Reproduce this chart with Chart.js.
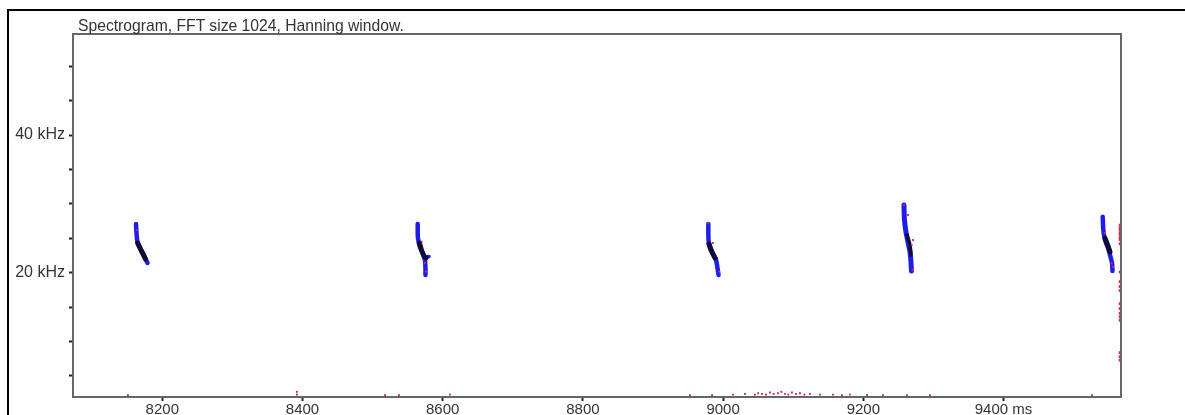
<!DOCTYPE html>
<html>
<head>
<meta charset="utf-8">
<script src="https://cdn.jsdelivr.net/npm/chart.js@4/dist/chart.umd.min.js"></script>
<style>
  html, body { margin: 0; padding: 0; background: #fff; }
  #wrap { position: relative; width: 1185px; height: 415px; overflow: hidden; }
  #frame { position: absolute; left: 7px; top: 9px; width: 1177px; height: 420px;
           border-top: 2px solid #000; border-left: 2px solid #000; }
  #title { position: absolute; left: 78px; top: 18px; font: 15.7px "Liberation Sans", Arial, sans-serif;
           line-height: 16px; color: #333; white-space: nowrap; }
  canvas { position: absolute; left: 0; top: 0; }
</style>
</head>
<body>
<div id="wrap">
  <div id="frame"></div>
  <canvas id="spectro" width="1185" height="415"></canvas>
  <div id="title">Spectrogram, FFT size 1024, Hanning window.</div>
</div>
<script>
// axis ranges (ms, kHz)
const timeMin = 8072.6;
const timeMax = 9567.6;
const freqMin = 1.95;
const freqMax = 54.67;

const xTickValues = [8200, 8400, 8600, 8800, 9000, 9200, 9400];
const yTickValues = [5, 10, 15, 20, 25, 30, 35, 40, 45, 50];
const yLabelValues = [20, 40];

// call traces: time in ms, frequency in kHz
const call1Ms  = [8162.5, 8163.2, 8164.6, 8169.6, 8173.9, 8178.9];
const call1KHz = [27.07, 25.77, 24.46, 23.30, 22.43, 21.41];
const call1CoreMs  = [8164.9, 8169.6, 8173.9, 8176.0];
const call1CoreKHz = [24.30, 23.30, 22.43, 21.99];

const call2Ms  = [8564.3, 8564.7, 8567.6, 8571.9, 8574.7, 8575.4, 8575.4];
const call2KHz = [27.07, 25.04, 23.73, 22.72, 21.84, 20.68, 19.67];
const call2CoreMs  = [8566.9, 8569.7, 8573.3, 8576.2];
const call2CoreKHz = [24.31, 23.30, 22.43, 22.13];
const call2BranchMs  = [8574.7, 8580.5];
const call2BranchKHz = [22.28, 22.35];

const call3Ms  = [8978.9, 8979.2, 8981.3, 8985.6, 8989.9, 8992.0, 8993.5];
const call3KHz = [27.07, 24.75, 23.59, 22.72, 21.84, 20.68, 19.67];
const call3CoreMs  = [8979.9, 8984.2, 8988.5];
const call3CoreKHz = [24.17, 23.01, 22.13];

const call4Ms  = [9258.0, 9258.7, 9260.9, 9263.7, 9266.6, 9268.0, 9268.7];
const call4KHz = [29.83, 27.65, 25.91, 24.46, 23.01, 21.55, 20.25];
const call4CoreMs  = [9262.3, 9266.6, 9268.0];
const call4CoreKHz = [25.48, 24.02, 22.57];

const call5Ms  = [9541.5, 9542.4, 9544.8, 9549.1, 9551.9, 9554.8, 9555.5];
const call5KHz = [28.13, 26.20, 24.75, 23.59, 22.57, 21.41, 20.25];
const call5CoreMs  = [9544.8, 9549.1, 9551.9];
const call5CoreKHz = [25.04, 23.88, 23.01];

// red energy spots on the calls
const callSpotMs  = [8163.5, 8570.0, 8574.7, 8576.2, 8978.9, 8985.6, 8994.2, 9258.0, 9263.7,
                     9270.9, 9269.0, 9270.4, 9544.8, 9554.4, 9556.3];
const callSpotKHz = [26.20, 24.50, 21.41, 20.15, 27.17, 24.31, 20.15, 29.83, 28.38,
                     24.75, 24.02, 20.39, 25.77, 21.37, 20.87];

// noise at right edge (last frame)
const edgeNoiseMs  = [9566.4, 9566.4, 9566.4, 9566.4, 9566.4, 9566.4, 9566.4, 9566.4, 9566.4,
                      9566.4, 9566.4, 9566.4, 9566.4, 9566.4, 9566.4, 9566.4, 9566.4, 9566.4,
                      9566.4, 9566.4];
const edgeNoiseKHz = [26.9, 26.5, 26.2, 25.8, 25.5, 25.1, 24.8, 24.2, 20.1, 18.7, 18.0,
                      17.4, 15.5, 14.8, 14.1, 13.6, 13.1, 8.4, 7.8, 7.3];

// low-frequency noise along the bottom
const lowNoiseMs  = [8151, 8392, 8392, 8517.7, 8537.6, 8610.4, 8952.7, 8984.2, 9014, 9031.2,
                     9045.5, 9050, 9055.4, 9061, 9066.8, 9072, 9078.3, 9083, 9088.3, 9093,
                     9098.2, 9104, 9109.6, 9116, 9123.9, 9138.2, 9156.7, 9169.5, 9180.9,
                     9205.3, 9228.1, 9262.3, 9295.1, 9526.2];
const lowNoiseKHz = [2.2, 2.3, 2.7, 2.2, 2.2, 2.3, 2.2, 2.2, 2.3, 2.4,
                     2.3, 2.5, 2.4, 2.3, 2.6, 2.4, 2.5, 2.7, 2.4, 2.3,
                     2.6, 2.4, 2.5, 2.3, 2.4, 2.3, 2.3, 2.2, 2.3,
                     2.2, 2.2, 2.2, 2.2, 2.2];

const pts = (xs, ys) => xs.map((x, i) => ({ x: x, y: ys[i] }));

const BLUE = 'rgb(30, 30, 235)';
const CORE = 'rgb(15, 10, 55)';
const RED = 'rgb(225, 35, 90)';

// lower order is drawn on top
function trace(ms, khz, color, width, order) {
  return {
    data: pts(ms, khz),
    showLine: true,
    borderColor: color,
    borderWidth: width,
    borderCapStyle: 'round',
    borderJoinStyle: 'round',
    tension: 0.3,
    pointRadius: 0,
    order: order
  };
}

function spots(ms, khz, color, r) {
  return {
    data: pts(ms, khz),
    showLine: false,
    pointStyle: 'rect',
    pointRadius: r,
    backgroundColor: color,
    borderWidth: 0,
    order: 0
  };
}

const datasets = [
  trace(call1Ms, call1KHz, BLUE, 4.5, 3),
  trace(call2Ms, call2KHz, BLUE, 4.5, 3),
  trace(call2BranchMs, call2BranchKHz, BLUE, 3.5, 3),
  trace(call3Ms, call3KHz, BLUE, 4.5, 3),
  trace(call4Ms, call4KHz, BLUE, 5, 3),
  trace(call5Ms, call5KHz, BLUE, 4.5, 3),
  trace(call1CoreMs, call1CoreKHz, CORE, 5, 1),
  trace(call2CoreMs, call2CoreKHz, CORE, 5, 1),
  trace(call3CoreMs, call3CoreKHz, CORE, 5, 1),
  trace(call4CoreMs, call4CoreKHz, CORE, 3.5, 1),
  trace(call5CoreMs, call5CoreKHz, CORE, 5, 1),
  spots(callSpotMs, callSpotKHz, RED, 1.3),
  spots(edgeNoiseMs, edgeNoiseKHz, RED, 2),
  spots(lowNoiseMs, lowNoiseKHz, 'rgb(190, 30, 110)', 1.3)
];

// top and right edges of the plot box
const boxPlugin = {
  id: 'box',
  afterDatasetsDraw(chart) {
    const a = chart.chartArea;
    const ctx = chart.ctx;
    ctx.save();
    ctx.strokeStyle = '#666';
    ctx.lineWidth = 2;
    ctx.beginPath();
    ctx.moveTo(a.left, a.top);
    ctx.lineTo(a.right, a.top);
    ctx.lineTo(a.right, a.bottom);
    ctx.stroke();
    ctx.restore();
  }
};

const fontFamily = '"Liberation Sans", Arial, sans-serif';

new Chart(document.getElementById('spectro'), {
  type: 'scatter',
  data: { datasets: datasets },
  plugins: [boxPlugin],
  options: {
    responsive: false,
    animation: false,
    devicePixelRatio: 1,
    layout: { padding: { left: 0, right: 64, top: 34, bottom: 0 } },
    plugins: { legend: { display: false }, tooltip: { enabled: false } },
    scales: {
      x: {
        type: 'linear',
        min: timeMin,
        max: timeMax,
        afterBuildTicks: (s) => { s.ticks = xTickValues.map(v => ({ value: v })); },
        afterFit: (s) => { s.height = 18; },
        ticks: {
          color: '#333',
          font: { family: fontFamily, size: 15 },
          padding: 0,
          maxRotation: 0,
          autoSkip: false,
          callback: (v) => (v === xTickValues[xTickValues.length - 1] ? v + ' ms' : String(v))
        },
        grid: { drawOnChartArea: false, drawTicks: true, tickLength: 4, tickColor: '#222', tickWidth: 2 },
        border: { color: '#666', width: 2 }
      },
      y: {
        type: 'linear',
        min: freqMin,
        max: freqMax,
        afterBuildTicks: (s) => { s.ticks = yTickValues.map(v => ({ value: v })); },
        afterFit: (s) => { s.width = 73; },
        ticks: {
          color: '#333',
          font: { family: fontFamily, size: 16 },
          padding: 4,
          autoSkip: false,
          callback: (v) => (yLabelValues.includes(v) ? v + ' kHz' : '')
        },
        grid: { drawOnChartArea: false, drawTicks: true, tickLength: 4, tickColor: '#222', tickWidth: 2 },
        border: { color: '#666', width: 2 }
      }
    }
  }
});
</script>
</body>
</html>
